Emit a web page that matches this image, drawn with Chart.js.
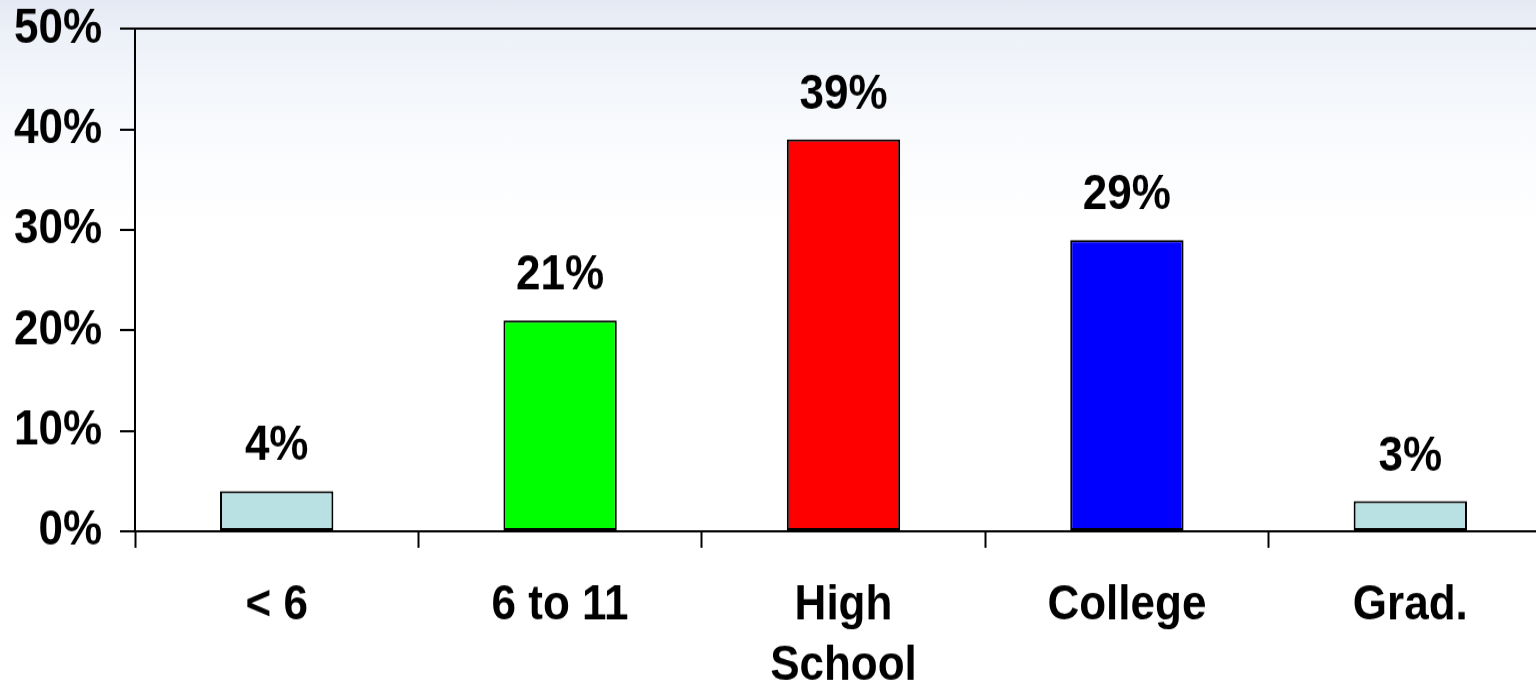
<!DOCTYPE html>
<html>
<head>
<meta charset="utf-8">
<title>Education</title>
<script src="https://cdn.jsdelivr.net/npm/chart.js@4.4.1/dist/chart.umd.min.js"></script>
<style>
  html, body {
    margin: 0;
    padding: 0;
    width: 1536px;
    height: 688px;
    overflow: hidden;
    background: linear-gradient(to bottom, #e4e9f3 0px, #edf1f8 35px, #f4f7fb 90px, #fbfcfe 160px, #ffffff 230px, #ffffff 688px);
  }
  /* chart is drawn a bit squat and stretched vertically */
  #wrap {
    position: absolute;
    left: 0;
    top: 0;
    width: 1552px;
    height: 626px;
    transform: scale(1, 1.1);
    transform-origin: 0 0;
  }
</style>
</head>
<body>
<div id="wrap"><canvas id="eduChart"></canvas></div>
<script>
// categorias e valores (%)
const categorias = ["< 6", "6 to 11", ["High", "School"], "College", "Grad."];
const valores = [4, 21, 39, 29, 3];
const cores = ["#b9e0e3", "#00ff00", "#ff0000", "#0000ff", "#b9e0e3"];
const yMin = 0;
const yMax = 50;
const yPasso = 10;

const fonte = { family: "'Liberation Sans', Arial, sans-serif", size: 44, weight: "bold" };

// rotulos de valor acima das barras
const rotulosBarras = {
  id: "rotulosBarras",
  afterDatasetsDraw(chart) {
    const ctx = chart.ctx;
    const meta = chart.getDatasetMeta(0);
    ctx.save();
    ctx.font = `bold ${fonte.size}px ${fonte.family}`;
    ctx.fillStyle = "#000";
    ctx.textAlign = "center";
    ctx.textBaseline = "alphabetic";
    meta.data.forEach((bar, i) => {
      ctx.fillText(valores[i] + "%", bar.x, bar.y - 28);
    });
    ctx.restore();
  }
};

new Chart(document.getElementById("eduChart"), {
  type: "bar",
  data: {
    labels: categorias,
    datasets: [{
      data: valores,
      backgroundColor: cores,
      borderColor: "#000",
      borderWidth: 2,
      borderSkipped: false,
      categoryPercentage: 1.0,
      barPercentage: 0.4
    }]
  },
  options: {
    responsive: true,
    maintainAspectRatio: false,
    animation: false,
    layout: { padding: { top: 26.4, left: 0, right: 0, bottom: 0 } },
    plugins: {
      legend: { display: false },
      tooltip: { enabled: false }
    },
    scales: {
      x: {
        offset: true,
        afterFit(scale) { scale.height = 143; },
        grid: {
          offset: true,
          drawOnChartArea: false,
          tickLength: 15,
          tickColor: "#000",
          tickWidth: 2
        },
        border: { color: "#000", width: 2 },
        ticks: {
          color: "#000",
          font: { ...fonte, lineHeight: 1.25 },
          padding: 25,
          maxRotation: 0,
          autoSkip: false
        }
      },
      y: {
        min: yMin,
        max: yMax,
        afterFit(scale) {
          scale.width = 135;
          scale.paddingTop = 0;
          scale.paddingBottom = 0;
        },
        grid: {
          // so a linha superior (50%) atravessa o grafico
          color: c => (c.tick && c.tick.value === yMax ? "#000" : "rgba(0,0,0,0)"),
          lineWidth: 2,
          tickColor: "#000",
          tickLength: 15,
          tickWidth: 2
        },
        border: { color: "#000", width: 2 },
        ticks: {
          stepSize: yPasso,
          color: "#000",
          font: fonte,
          padding: 18,
          callback: v => v + "%"
        }
      }
    }
  },
  plugins: [rotulosBarras]
});
</script>
</body>
</html>
